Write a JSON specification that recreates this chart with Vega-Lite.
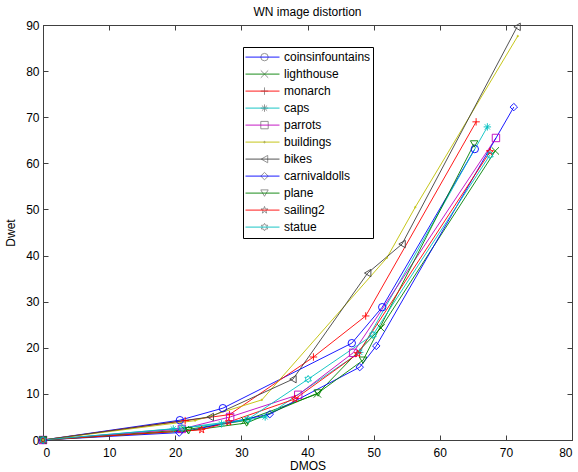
{
"$schema": "https://vega.github.io/schema/vega-lite/v6.json",
"width": 529, "height": 415,
"autosize": {"type": "none"},
"padding": {"left": 43, "top": 25, "right": 6, "bottom": 32},
"background": "white",
"title": {"text": "WN image distortion", "fontSize": 12, "fontWeight": "normal", "font": "Liberation Sans", "color": "black", "offset": 0},
"config": {
  "view": {"stroke": "#404040", "strokeWidth": 1},
  "axis": {"domainColor": "#404040", "tickColor": "#404040", "labelColor": "#000", "titleColor": "#000", "labelFont": "Liberation Sans", "titleFont": "Liberation Sans", "labelFontSize": 12, "titleFontSize": 12, "titleFontWeight": "normal", "grid": false, "tickSize": -5}
},
"data": {"values": [
{"image":"coinsinfountains","dmos":0,"dwet":0},{"image":"coinsinfountains","dmos":20.7,"dwet":4.3},{"image":"coinsinfountains","dmos":27.2,"dwet":6.9},{"image":"coinsinfountains","dmos":46.7,"dwet":21.0},{"image":"coinsinfountains","dmos":51.3,"dwet":28.8},{"image":"coinsinfountains","dmos":65.3,"dwet":63.1},
{"image":"lighthouse","dmos":0,"dwet":0},{"image":"lighthouse","dmos":21.5,"dwet":2.2},{"image":"lighthouse","dmos":30.5,"dwet":4.2},{"image":"lighthouse","dmos":41.5,"dwet":10.0},{"image":"lighthouse","dmos":51.1,"dwet":24.3},{"image":"lighthouse","dmos":68.4,"dwet":62.7},
{"image":"monarch","dmos":0,"dwet":0},{"image":"monarch","dmos":21.5,"dwet":4.2},{"image":"monarch","dmos":28.2,"dwet":5.5},{"image":"monarch","dmos":40.9,"dwet":18.0},{"image":"monarch","dmos":48.8,"dwet":26.9},{"image":"monarch","dmos":65.5,"dwet":69.0},
{"image":"caps","dmos":0,"dwet":0},{"image":"caps","dmos":19.7,"dwet":2.4},{"image":"caps","dmos":27.0,"dwet":3.5},{"image":"caps","dmos":33.6,"dwet":5.0},{"image":"caps","dmos":47.9,"dwet":19.0},{"image":"caps","dmos":67.2,"dwet":67.9},
{"image":"parrots","dmos":0,"dwet":0},{"image":"parrots","dmos":21.0,"dwet":2.4},{"image":"parrots","dmos":28.3,"dwet":5.0},{"image":"parrots","dmos":38.6,"dwet":9.8},{"image":"parrots","dmos":46.9,"dwet":18.9},{"image":"parrots","dmos":68.5,"dwet":65.5},
{"image":"buildings","dmos":0,"dwet":0},{"image":"buildings","dmos":23.0,"dwet":4.2},{"image":"buildings","dmos":33.1,"dwet":8.7},{"image":"buildings","dmos":52.0,"dwet":39.5},{"image":"buildings","dmos":56.3,"dwet":50.5},{"image":"buildings","dmos":71.8,"dwet":87.6},
{"image":"bikes","dmos":0,"dwet":0},{"image":"bikes","dmos":25.3,"dwet":5.0},{"image":"bikes","dmos":37.8,"dwet":13.2},{"image":"bikes","dmos":49.1,"dwet":36.2},{"image":"bikes","dmos":54.3,"dwet":42.5},{"image":"bikes","dmos":71.7,"dwet":89.6},
{"image":"carnivaldolls","dmos":0,"dwet":0},{"image":"carnivaldolls","dmos":20.6,"dwet":1.6},{"image":"carnivaldolls","dmos":34.3,"dwet":5.6},{"image":"carnivaldolls","dmos":47.9,"dwet":15.8},{"image":"carnivaldolls","dmos":50.4,"dwet":20.4},{"image":"carnivaldolls","dmos":71.2,"dwet":72.2},
{"image":"plane","dmos":0,"dwet":0},{"image":"plane","dmos":22.0,"dwet":2.0},{"image":"plane","dmos":30.8,"dwet":3.7},{"image":"plane","dmos":41.6,"dwet":10.2},{"image":"plane","dmos":48.4,"dwet":17.3},{"image":"plane","dmos":65.2,"dwet":64.2},
{"image":"sailing2","dmos":0,"dwet":0},{"image":"sailing2","dmos":24.0,"dwet":2.2},{"image":"sailing2","dmos":28.1,"dwet":3.9},{"image":"sailing2","dmos":38.1,"dwet":8.9},{"image":"sailing2","dmos":47.6,"dwet":18.7},{"image":"sailing2","dmos":67.6,"dwet":62.5},
{"image":"statue","dmos":0,"dwet":0},{"image":"statue","dmos":21.0,"dwet":2.6},{"image":"statue","dmos":31.0,"dwet":4.5},{"image":"statue","dmos":40.1,"dwet":13.2},{"image":"statue","dmos":49.9,"dwet":22.8},{"image":"statue","dmos":67.6,"dwet":61.8}
]},
"layer": [
  {
    "mark": {"type": "line", "strokeWidth": 0.9},
    "encoding": {
      "x": {"field": "dmos", "type": "quantitative", "scale": {"domain": [0, 80], "nice": false, "zero": false},
            "axis": {"orient": "bottom", "values": [0,10,20,30,40,50,60,70,80], "title": "DMOS", "labelPadding": 12, "titlePadding": 2, "labelOverlap": false}},
      "y": {"field": "dwet", "type": "quantitative", "scale": {"domain": [0, 90], "nice": false, "zero": false},
            "axis": {"orient": "left", "values": [0,10,20,30,40,50,60,70,80,90], "title": "Dwet", "labelPadding": 9, "titlePadding": 8, "labelOverlap": false}},
      "color": {"field": "image", "type": "nominal",
        "scale": {"domain": ["coinsinfountains","lighthouse","monarch","caps","parrots","buildings","bikes","carnivaldolls","plane","sailing2","statue"],
                  "range": ["#0000ff","#008000","#ff0000","#00bfbf","#bf00bf","#bfbf00","#404040","#0000ff","#008000","#ff0000","#00bfbf"]},
        "legend": {"orient": "none", "legendX": 200, "legendY": 22, "title": null, "symbolType": "stroke", "symbolSize": 1156, "symbolStrokeWidth": 0.9, "strokeColor": "#000", "padding": 2, "labelFontSize": 12, "labelFont": "Liberation Sans", "labelColor": "#000", "labelOffset": 4, "clipHeight": 16.2, "rowPadding": 0}}
    }
  },
  {
    "mark": {"type": "point", "filled": false, "size": 55, "strokeWidth": 0.9, "opacity": 1},
    "encoding": {
      "x": {"field": "dmos", "type": "quantitative", "axis": {"orient": "top", "values": [0,10,20,30,40,50,60,70,80], "labels": false, "title": null}},
      "y": {"field": "dwet", "type": "quantitative", "axis": {"orient": "right", "values": [0,10,20,30,40,50,60,70,80,90], "labels": false, "title": null}},
      "color": {"field": "image", "type": "nominal",
        "scale": {"domain": ["coinsinfountains","lighthouse","monarch","caps","parrots","buildings","bikes","carnivaldolls","plane","sailing2","statue"],
                  "range": ["#0000ff","#008000","#ff0000","#00bfbf","#bf00bf","#bfbf00","#404040","#0000ff","#008000","#ff0000","#00bfbf"]},
        "legend": null},
      "shape": {"field": "image", "type": "nominal",
        "scale": {"domain": ["coinsinfountains","lighthouse","monarch","caps","parrots","buildings","bikes","carnivaldolls","plane","sailing2","statue"],
                  "range": ["circle","M-1,-1L1,1M-1,1L1,-1","M-1,0H1M0,-1V1","M-1,0H1M0,-1V1M-0.7,-0.7L0.7,0.7M-0.7,0.7L0.7,-0.7","square","M-0.2,0A0.2,0.2 0 1,0 0.2,0A0.2,0.2 0 1,0 -0.2,0Z","triangle-left","diamond","triangle-down","M0,-1L0.225,-0.309L0.951,-0.309L0.363,0.118L0.588,0.809L0,0.382L-0.588,0.809L-0.363,0.118L-0.951,-0.309L-0.225,-0.309Z","M0,-1L0.289,-0.5L0.866,-0.5L0.577,0L0.866,0.5L0.289,0.5L0,1L-0.289,0.5L-0.866,0.5L-0.577,0L-0.866,-0.5L-0.289,-0.5Z"]},
        "legend": {"orient": "none", "legendX": 213.5, "legendY": 22, "title": null, "symbolSize": 55, "symbolStrokeWidth": 0.9, "symbolFillColor": "transparent", "padding": 2, "labelFontSize": 12, "labelFont": "Liberation Sans", "labelExpr": "''", "labelOffset": 4, "clipHeight": 16.2, "rowPadding": 0,
          "encode": {"symbols": {"update": {"stroke": {"signal": "['#0000ff','#008000','#ff0000','#00bfbf','#bf00bf','#bfbf00','#404040','#0000ff','#008000','#ff0000','#00bfbf'][indexof(['coinsinfountains','lighthouse','monarch','caps','parrots','buildings','bikes','carnivaldolls','plane','sailing2','statue'], datum.value)]"}, "fill": {"value": "transparent"}}}}}}
    }
  }
],
"resolve": {"scale": {"color": "independent"}, "axis": {"x": "independent", "y": "independent"}, "legend": {"color": "independent"}}
}
